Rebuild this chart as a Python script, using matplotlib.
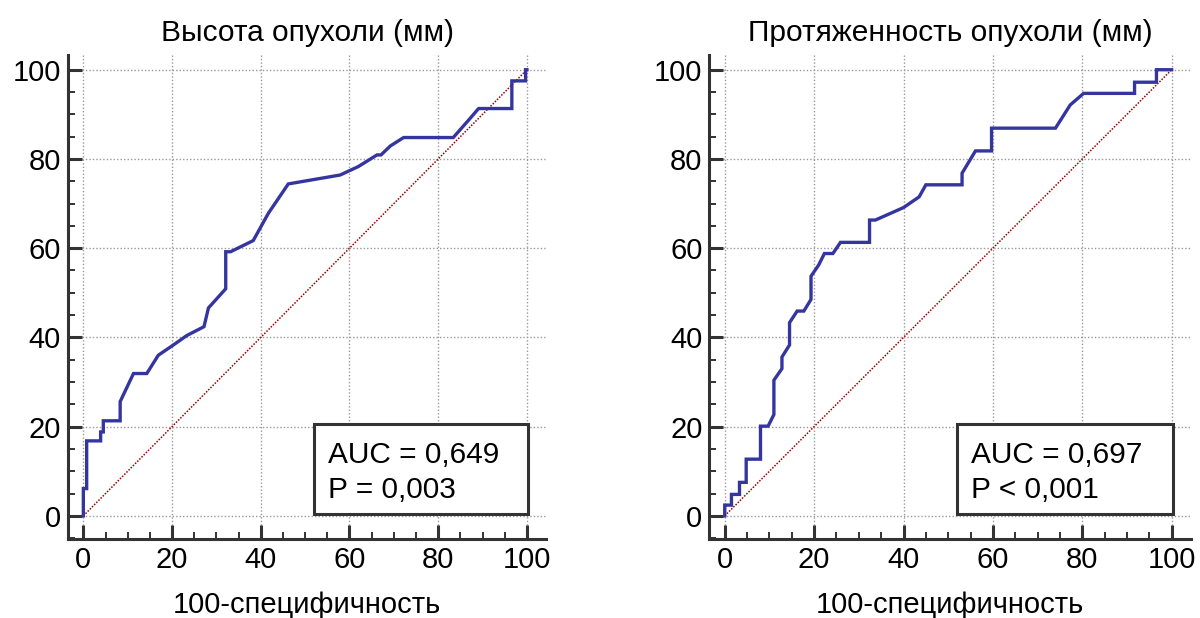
import matplotlib
matplotlib.use("Agg")
from matplotlib import pyplot as plt
from matplotlib.patches import Rectangle
from matplotlib.ticker import MultipleLocator

plt.rcParams['font.family'] = ['Liberation Sans', 'DejaVu Sans']

# ROC curve: height of tumour
height_x = [0, 0, 0.75, 0.75, 3.9, 3.9, 4.5, 4.5, 8.3, 8.3, 11.3, 14.3, 16.9, 20.3,
            23.3, 27.2, 28.2, 32.1, 32.1, 33.2, 38.3, 41.7, 46.2, 57.9, 62.0, 66.2,
            67.1, 69.2, 72.2, 83.4, 87.2, 89.1, 96.6, 96.6, 99.7, 99.7, 100]
height_y = [0, 6.1, 6.1, 16.8, 16.8, 18.8, 18.8, 21.3, 21.3, 25.6, 31.9, 31.9, 36.0,
            38.3, 40.4, 42.4, 46.6, 50.9, 59.2, 59.2, 61.7, 67.8, 74.4, 76.4, 78.3,
            80.9, 80.9, 82.9, 84.8, 84.8, 89.1, 91.3, 91.3, 97.5, 97.5, 100, 100]

# ROC curve: length of tumour
length_x = [0, 0, 1.5, 1.5, 3.3, 3.3, 4.8, 4.8, 8.0, 8.0, 9.7, 11.0, 11.0, 12.8, 12.8,
            14.5, 14.5, 16.2, 17.7, 19.3, 19.3, 21.0, 22.3, 24.2, 25.9, 32.4, 32.4,
            33.7, 40.0, 43.5, 45.0, 53.1, 53.1, 56.1, 59.7, 59.7, 74.0, 77.3, 80.3,
            91.7, 91.7, 96.6, 96.6, 100]
length_y = [0, 2.4, 2.4, 4.8, 4.8, 7.5, 7.5, 12.7, 12.7, 20.1, 20.1, 22.7, 30.4, 33.0,
            35.6, 38.3, 43.3, 45.9, 45.9, 48.5, 53.7, 56.2, 58.8, 58.8, 61.3, 61.3,
            66.3, 66.3, 69.1, 71.5, 74.2, 74.2, 76.8, 81.8, 81.8, 86.9, 86.9, 92.1,
            94.7, 94.7, 97.2, 97.2, 100, 100]

diag = [0, 100]

titles = ["Высота опухоли (мм)", "Протяженность опухоли (мм)"]
auc_lines = [["AUC = 0,649", "P = 0,003"], ["AUC = 0,697", "P < 0,001"]]
xlabel = "100-специфичность"

curve_color = "#3535a0"
spine_color = "#333333"

fig = plt.figure(figsize=(12, 6.18), dpi=100)
rects = [[0.0567, 0.1278, 0.3983, 0.7832], [0.5911, 0.1278, 0.4013, 0.7832]]
series = [(height_x, height_y), (length_x, length_y)]

for i in range(2):
    ax = fig.add_axes(rects[i])
    xs, ys = series[i]
    ax.plot(diag, diag, color="#9a0000", lw=1.1, ls=(0, (1, 1)), zorder=2)
    ax.plot(xs, ys, color=curve_color, lw=2.4, zorder=3, solid_joinstyle="miter")

    ax.set_xlim(-3.45, 104.3)
    ax.set_ylim(-5.2, 103.3)
    ax.spines['top'].set_visible(False)
    ax.spines['right'].set_visible(False)
    for s in ['left', 'bottom']:
        ax.spines[s].set_color(spine_color)
        ax.spines[s].set_linewidth(2.2)

    ax.set_xticks(range(0, 101, 20))
    ax.set_yticks(range(0, 101, 20))
    ax.xaxis.set_minor_locator(MultipleLocator(5))
    ax.yaxis.set_minor_locator(MultipleLocator(5))
    ax.tick_params(which='major', direction='in', length=10, width=2.2,
                   color=spine_color, labelsize=21, pad=5)
    ax.tick_params(which='minor', direction='in', length=5, width=1.4,
                   color=spine_color)
    ax.grid(True, which='major', color="#999999", ls=(0, (1, 1.5)), lw=1.0)
    ax.set_axisbelow(True)

    ax.set_title(titles[i], fontsize=21.5, pad=10)
    ax.set_xlabel(xlabel, fontsize=21, labelpad=12)

    ax.add_patch(Rectangle((52, 0.4), 48.2, 20.2, facecolor="white",
                           edgecolor=spine_color, lw=2.2, zorder=4))
    ax.text(55.2, 11.8, auc_lines[i][0], fontsize=21.5, va="baseline", zorder=5)
    ax.text(55.2, 4.0, auc_lines[i][1], fontsize=21.5, va="baseline", zorder=5)

fig.savefig("out.png", dpi=100)
